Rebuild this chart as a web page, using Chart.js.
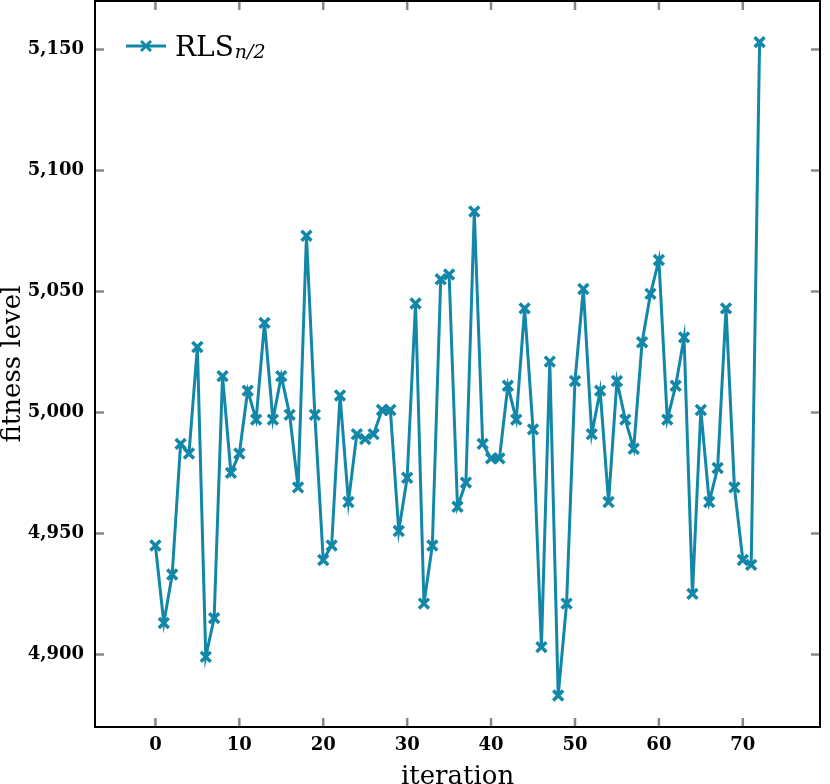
<!DOCTYPE html>
<html>
<head>
<meta charset="utf-8">
<script src="https://cdn.jsdelivr.net/npm/chart.js@4.4.1/dist/chart.umd.min.js"></script>
<style>
  html, body { margin: 0; padding: 0; overflow: hidden; background: #fff; }
  canvas { display: block; }
</style>
</head>
<body>
<canvas id="myChart" width="830" height="790"></canvas>
<script>
// fitness level per iteration (index = iteration)
var fitness = [
  4945, 4913, 4933, 4987, 4983, 5027, 4899, 4915, 5015, 4975,
  4983, 5009, 4997, 5037, 4997, 5015, 4999, 4969, 5073, 4999,
  4939, 4945, 5007, 4963, 4991, 4989, 4991, 5001, 5001, 4951,
  4973, 5045, 4921, 4945, 5055, 5057, 4961, 4971, 5083, 4987,
  4981, 4981, 5011, 4997, 5043, 4993, 4903, 5021, 4883, 4921,
  5013, 5051, 4991, 5009, 4963, 5013, 4997, 4985, 5029, 5049,
  5063, 4997, 5011, 5031, 4925, 5001, 4963, 4977, 5043, 4969,
  4939, 4937, 5153
];
var xTicks = [0, 10, 20, 30, 40, 50, 60, 70];
var yTicks = [4900, 4950, 5000, 5050, 5100, 5150];
var seriesName = "RLS";
var seriesSub = "n/2";

var lineColor = "#1287a8";
var tickFont = { family: "DejaVu Serif", size: 18, weight: "bold" };
var titleFont = { family: "DejaVu Serif", size: 26, lineHeight: 1 };

window.onload = function () {
  var points = fitness.map(function (v, i) {
    return { x: i, y: v };
  });

  // inward gray ticks on all four sides, black frame, legend with subscript
  var framePlugin = {
    id: "frame",
    beforeDatasetsDraw: function (chart) {
      var ctx = chart.ctx;
      var a = chart.chartArea;
      var xs = chart.scales.x;
      var ys = chart.scales.y;
      var len = 9;
      ctx.save();
      ctx.strokeStyle = "#888888";
      ctx.lineWidth = 2.5;
      ctx.beginPath();
      xTicks.forEach(function (v) {
        var px = xs.getPixelForValue(v);
        ctx.moveTo(px, a.bottom);
        ctx.lineTo(px, a.bottom - len);
        ctx.moveTo(px, a.top);
        ctx.lineTo(px, a.top + len);
      });
      yTicks.forEach(function (v) {
        var py = ys.getPixelForValue(v);
        ctx.moveTo(a.left, py);
        ctx.lineTo(a.left + len, py);
        ctx.moveTo(a.right, py);
        ctx.lineTo(a.right - len, py);
      });
      ctx.stroke();
      ctx.restore();
    },
    afterDraw: function (chart) {
      var ctx = chart.ctx;
      var a = chart.chartArea;
      ctx.save();
      ctx.strokeStyle = "#000";
      ctx.lineWidth = 2;
      ctx.strokeRect(a.left, a.top, a.right - a.left, a.bottom - a.top);

      // legend entry
      var lx = a.left + 31;
      var ly = a.top + 45;
      ctx.strokeStyle = lineColor;
      ctx.lineWidth = 3;
      ctx.beginPath();
      ctx.moveTo(lx, ly);
      ctx.lineTo(lx + 40, ly);
      ctx.stroke();
      Chart.helpers.drawPoint(ctx, { pointStyle: "crossRot", radius: 7, borderWidth: 3.5 }, lx + 20, ly);

      ctx.fillStyle = "#000";
      ctx.textBaseline = "alphabetic";
      ctx.textAlign = "left";
      ctx.font = "28px 'DejaVu Serif'";
      ctx.fillText(seriesName, lx + 49, ly + 10);
      var w = ctx.measureText(seriesName).width;
      ctx.font = "italic 19px 'DejaVu Serif'";
      ctx.fillText(seriesSub, lx + 50 + w, ly + 12);
      ctx.restore();
    },
  };

  var ctx = document.getElementById("myChart").getContext("2d");
  var chart = new Chart(ctx, {
    type: "line",
    data: {
      datasets: [
        {
          label: seriesName,
          data: points,
          borderColor: lineColor,
          backgroundColor: lineColor,
          borderWidth: 3,
          tension: 0,
          pointStyle: "crossRot",
          pointRadius: 7,
          pointBorderWidth: 3.5,
          pointBorderColor: lineColor,
          pointHoverRadius: 7,
        },
      ],
    },
    options: {
      responsive: false,
      animation: false,
      locale: "en-US",
      layout: { autoPadding: false, padding: { top: 1, right: 10, left: 0, bottom: 0 } },
      plugins: {
        legend: { display: false },
        tooltip: { enabled: false },
      },
      scales: {
        x: {
          type: "linear",
          min: -7.2,
          max: 79.2,
          afterBuildTicks: function (s) {
            s.ticks = xTicks.map(function (v) { return { value: v }; });
          },
          afterFit: function (s) {
            s.height = 63;
            s.paddingLeft = 0;
            s.paddingRight = 0;
            s.paddingTop = 0;
            s.paddingBottom = 0;
          },
          grid: { display: false, drawTicks: false },
          border: { display: false },
          ticks: { font: tickFont, color: "#000", padding: 8, maxRotation: 0 },
          title: { display: true, text: "iteration", font: titleFont, color: "#000", padding: 0 },
        },
        y: {
          type: "linear",
          min: 4870,
          max: 5170,
          afterBuildTicks: function (s) {
            s.ticks = yTicks.map(function (v) { return { value: v }; });
          },
          afterFit: function (s) {
            s.width = 95;
            s.paddingLeft = 0;
            s.paddingRight = 0;
            s.paddingTop = 0;
            s.paddingBottom = 0;
          },
          grid: { display: false, drawTicks: false },
          border: { display: false },
          ticks: { font: tickFont, color: "#000", padding: 11 },
          title: { display: true, text: "fitness level", font: titleFont, color: "#000", padding: 0 },
        },
      },
    },
    plugins: [framePlugin],
  });
};
</script>
</body>
</html>
